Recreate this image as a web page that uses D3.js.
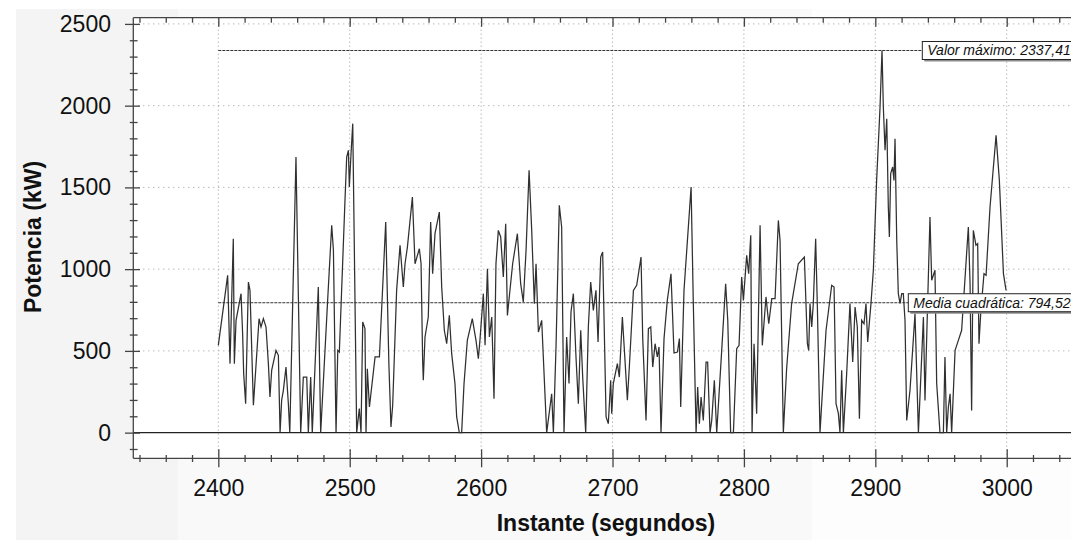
<!DOCTYPE html>
<html>
<head>
<meta charset="utf-8">
<script src="https://cdn.jsdelivr.net/npm/d3@7"></script>
<style>
	body { margin: 0; background: #fff; }
	svg { display: block; font-family: "Liberation Sans", Arial, sans-serif; }
</style>
</head>
<body>
<div id="chart"></div>
<script>

// instante (s) y potencia (kW)
var instantes = [
	2400.0, 2407.1, 2408.9, 2411.4, 2412.2, 2413.5, 2417.3, 2418.5, 2419.3, 2420.8,
	2422.9, 2424.1, 2426.7, 2431.0, 2432.5, 2434.3, 2436.3, 2438.1, 2439.3, 2440.6,
	2443.9, 2445.7, 2447.0, 2448.2, 2449.5, 2451.5, 2453.3, 2454.4, 2459.1, 2462.7,
	2464.7, 2467.3, 2468.5, 2470.3, 2471.5, 2476.1, 2477.9, 2483.2, 2486.3, 2487.6,
	2489.6, 2490.9, 2492.1, 2496.4, 2497.7, 2499.0, 2499.7, 2501.0, 2502.3, 2505.3,
	2507.3, 2508.6, 2509.9, 2511.6, 2512.4, 2513.4, 2515.0, 2519.3, 2522.6, 2527.4,
	2529.8, 2531.4, 2532.7, 2535.7, 2538.3, 2540.8, 2542.1, 2543.9, 2547.7, 2549.7,
	2553.0, 2554.3, 2555.5, 2556.0, 2557.3, 2559.8, 2561.6, 2563.1, 2564.9, 2568.2,
	2570.0, 2572.0, 2573.8, 2575.8, 2577.6, 2580.1, 2581.4, 2583.4, 2585.2, 2587.0,
	2589.5, 2593.3, 2596.1, 2597.9, 2599.2, 2601.7, 2603.0, 2604.8, 2606.3, 2608.1,
	2609.8, 2611.3, 2613.1, 2614.9, 2616.9, 2618.7, 2620.0, 2624.0, 2627.6, 2630.1,
	2632.1, 2634.2, 2636.5, 2638.5, 2640.5, 2641.8, 2643.6, 2646.1, 2649.9, 2653.7,
	2655.0, 2657.0, 2659.5, 2661.3, 2663.1, 2665.1, 2666.9, 2668.4, 2670.2, 2672.2,
	2674.0, 2675.8, 2677.3, 2679.6, 2681.6, 2683.4, 2685.4, 2687.4, 2689.0, 2691.0,
	2692.5, 2695.1, 2696.8, 2698.6, 2699.4, 2700.6, 2703.7, 2705.2, 2707.5, 2709.5,
	2711.3, 2712.8, 2715.9, 2718.4, 2721.7, 2723.0, 2725.5, 2727.3, 2729.1, 2730.6,
	2732.4, 2734.1, 2735.4, 2736.9, 2739.2, 2741.7, 2744.5, 2746.8, 2749.4, 2750.9,
	2751.9, 2754.4, 2759.8, 2761.5, 2763.6, 2764.8, 2766.1, 2767.4, 2769.1, 2771.2,
	2772.4, 2774.2, 2775.5, 2777.5, 2779.3, 2783.1, 2786.1, 2787.7, 2789.9, 2792.0,
	2794.5, 2796.3, 2798.3, 2799.6, 2802.1, 2803.6, 2805.2, 2806.2, 2807.7, 2809.7,
	2812.3, 2814.0, 2816.8, 2818.9, 2821.2, 2823.7, 2826.2, 2827.5, 2830.0, 2832.5,
	2836.3, 2841.4, 2846.0, 2848.3, 2849.3, 2850.3, 2851.6, 2852.8, 2854.6, 2855.9,
	2857.9, 2862.5, 2866.8, 2868.6, 2870.1, 2871.9, 2873.1, 2874.4, 2875.7, 2878.2,
	2880.7, 2882.8, 2884.6, 2886.3, 2887.9, 2889.6, 2891.4, 2892.9, 2894.2, 2896.7,
	2898.5, 2901.0, 2903.6, 2905.1, 2906.1, 2907.4, 2908.7, 2909.9, 2910.7, 2911.7,
	2913.2, 2914.2, 2915.0, 2916.3, 2917.5, 2918.8, 2920.1, 2921.3, 2922.6, 2923.9,
	2926.4, 2930.2, 2932.8, 2936.6, 2937.8, 2941.6, 2942.9, 2945.4, 2946.7, 2949.2,
	2951.8, 2953.0, 2954.3, 2955.6, 2956.9, 2958.1, 2960.7, 2963.2, 2965.7, 2970.8,
	2972.1, 2973.3, 2974.6, 2976.6, 2977.9, 2978.9, 2980.2, 2982.7, 2984.3, 2987.3,
	2991.9, 2994.4, 2997.5, 2999.5
];

var potencia = [
	534, 962, 422, 1186, 422, 687, 850, 605, 361, 177,
	921, 870, 167, 697, 646, 697, 646, 422, 218, 381,
	503, 473, 0, 198, 259, 401, 177, 0, 1686, 0,
	340, 340, 0, 340, 0, 891, 0, 809, 1268, 1115,
	0, 503, 493, 1421, 1686, 1727, 1502, 1706, 1890, 0,
	147, 0, 677, 636, 0, 391, 157, 463, 463, 1288,
	422, 34, 167, 870, 1146, 891, 1033, 1135, 1441, 1033,
	1125, 1033, 442, 320, 585, 707, 1288, 972, 1217, 1349,
	891, 626, 544, 717, 483, 300, 96, 0, 0, 300,
	564, 697, 564, 452, 575, 850, 534, 1003, 585, 707,
	208, 1033, 1237, 1197, 952, 1278, 717, 1033, 1217, 911,
	799, 1115, 1604, 1237, 789, 1033, 615, 687, 0, 238,
	0, 524, 1390, 1258, 0, 585, 300, 738, 850, 463,
	177, 626, 340, 0, 646, 921, 748, 870, 554, 1074,
	1105, 96, 55, 320, 116, 300, 422, 340, 707, 442,
	198, 401, 870, 901, 1074, 575, 75, 636, 646, 401,
	544, 463, 524, 0, 575, 809, 972, 487, 493, 575,
	157, 870, 1502, 789, 0, 279, 55, 218, 75, 432,
	432, 0, 75, 320, 0, 503, 911, 687, 0, 0,
	513, 534, 952, 809, 1084, 972, 1207, 0, 544, 116,
	1268, 534, 830, 666, 819, 819, 1298, 1176, 0, 391,
	789, 1033, 1074, 544, 503, 789, 646, 789, 1186, 768,
	0, 626, 901, 891, 177, 116, 0, 381, 0, 361,
	789, 432, 768, 646, 85, 687, 666, 789, 554, 789,
	993, 1543, 1992, 2337.4, 1992, 1727, 1920, 1380, 1197, 1584,
	1625, 1543, 1798, 1176, 850, 790, 850, 850, 687, 75,
	259, 728, 0, 707, 197, 1319, 932, 993, 300, 0,
	0, 462, 0, 157, 238, 0, 503, 564, 626, 1258,
	911, 136, 1237, 1146, 1156, 544, 728, 972, 962, 1380,
	1818, 1543, 972, 870
];

var ticksX = [2400, 2500, 2600, 2700, 2800, 2900, 3000];
var ticksY = [0, 500, 1000, 1500, 2000, 2500];
var valorMaximo = 2337.418;
var mediaCuadratica = 794.524;

function init() {

	var width = 1071;
	var height = 540;

	var left = 133.3, top = 17.7, bottom = 458.3, right = 1090;

	var svg = d3.select("#chart")
		.append("svg")
		.attr("width", width)
		.attr("height", height);

	// fondo gris en bandas
	var bandas = [[16, 178, "#f4f4f4"], [178, 812, "#f9f9f9"], [812, width, "#fdfdfd"]];
	svg.selectAll("rect.banda")
		.data(bandas)
		.enter()
		.append("rect")
		.attr("x", function(d) { return d[0]; })
		.attr("y", 9)
		.attr("width", function(d) { return d[1] - d[0]; })
		.attr("height", height - 9)
		.attr("fill", function(d) { return d[2]; });

	svg.append("rect")
		.attr("x", left).attr("y", top)
		.attr("width", right - left).attr("height", bottom - top)
		.attr("fill", "#fff");

	var x = d3.scaleLinear().domain([2335.3, 3060]).range([left, left + 724.7 * 1.314]);
	var y = d3.scaleLinear().domain([-157, 2538]).range([bottom, top]);

	// rejilla punteada
	svg.append("g")
		.selectAll("line")
		.data(ticksX)
		.enter()
		.append("line")
		.attr("x1", function(d) { return x(d); })
		.attr("x2", function(d) { return x(d); })
		.attr("y1", top).attr("y2", bottom)
		.attr("stroke", "#9a9a9a")
		.attr("stroke-dasharray", "1,3");

	svg.append("g")
		.selectAll("line")
		.data(ticksY.filter(function(d) { return d > 0; }))
		.enter()
		.append("line")
		.attr("x1", left).attr("x2", right)
		.attr("y1", function(d) { return y(d); })
		.attr("y2", function(d) { return y(d); })
		.attr("stroke", "#9a9a9a")
		.attr("stroke-dasharray", "1,4");

	// linea del cero
	svg.append("line")
		.attr("x1", left).attr("x2", right)
		.attr("y1", y(0)).attr("y2", y(0))
		.attr("stroke", "#222")
		.attr("stroke-width", 1.2);

	// lineas de referencia
	var refs = [
		{ v: valorMaximo, x2: 922, label: "Valor máximo: " + d3.format(".3f")(valorMaximo).replace(".", ",") },
		{ v: mediaCuadratica, x2: 908, label: "Media cuadrática: " + d3.format(".3f")(mediaCuadratica).replace(".", ",") }
	];

	svg.append("g")
		.selectAll("line")
		.data(refs)
		.enter()
		.append("line")
		.attr("x1", x(2400))
		.attr("x2", function(d) { return d.x2; })
		.attr("y1", function(d) { return y(d.v); })
		.attr("y2", function(d) { return y(d.v); })
		.attr("stroke", "#333")
		.attr("stroke-dasharray", "3,1");

	// serie
	var serie = instantes.map(function(t, i) { return [t, potencia[i]]; });

	var line = d3.line()
		.x(function(d) { return x(d[0]); })
		.y(function(d) { return y(d[1]); });

	svg.append("path")
		.datum(serie)
		.attr("d", line)
		.attr("fill", "none")
		.attr("stroke", "#303030")
		.attr("stroke-width", 1.25)
		.attr("stroke-linejoin", "miter");

	// cajas de etiqueta
	var cajas = svg.append("g")
		.selectAll("g")
		.data(refs)
		.enter()
		.append("g")
		.attr("transform", function(d) { return "translate(" + (d.x2 + 0.3) + "," + (y(d.v) - 9) + ")"; });

	cajas.append("rect")
		.attr("x", 2).attr("y", 2)
		.attr("width", 200).attr("height", 18)
		.attr("fill", "#8a8a8a");

	cajas.append("rect")
		.attr("width", 200).attr("height", 18)
		.attr("fill", "#fff")
		.attr("stroke", "#222");

	cajas.append("text")
		.attr("x", 5).attr("y", 14)
		.attr("font-size", 14)
		.attr("font-style", "italic")
		.attr("fill", "#111")
		.text(function(d) { return d.label; });

	// marco
	var marco = svg.append("g").attr("stroke", "#444").attr("stroke-width", 1.3);
	marco.append("line").attr("x1", left).attr("x2", left).attr("y1", top).attr("y2", bottom);
	marco.append("line").attr("x1", left).attr("x2", right).attr("y1", top).attr("y2", top);
	marco.append("line").attr("x1", left).attr("x2", right).attr("y1", bottom).attr("y2", bottom);

	var minorX = d3.range(2340, 3061, 20).filter(function(d) { return d % 100 != 0; });
	var minorY = d3.range(-100, 2501, 100).filter(function(d) { return d % 500 != 0; });

	// eje inferior
	var gxMinor = svg.append("g")
		.attr("transform", "translate(0," + bottom + ")")
		.call(d3.axisBottom(x).tickValues(minorX).tickSize(3.7).tickFormat(""));
	gxMinor.selectAll("line").attr("y1", -3.3);

	var gx = svg.append("g")
		.attr("transform", "translate(0," + bottom + ")")
		.call(d3.axisBottom(x).tickValues(ticksX).tickSize(9).tickPadding(12).tickFormat(d3.format("d")));
	gx.selectAll("line").attr("y1", -9);

	// eje superior (marcas hacia dentro)
	svg.append("g")
		.attr("transform", "translate(0," + top + ")")
		.call(d3.axisBottom(x).tickValues(minorX).tickSize(5).tickFormat(""));
	svg.append("g")
		.attr("transform", "translate(0," + top + ")")
		.call(d3.axisBottom(x).tickValues(ticksX).tickSize(9).tickFormat(""));

	// eje izquierdo
	var gyMinor = svg.append("g")
		.attr("transform", "translate(" + left + ",0)")
		.call(d3.axisLeft(y).tickValues(minorY).tickSize(3.5).tickFormat(""));
	gyMinor.selectAll("line").attr("x1", 4.3);

	var gy = svg.append("g")
		.attr("transform", "translate(" + left + ",0)")
		.call(d3.axisLeft(y).tickValues(ticksY).tickSize(8.3).tickPadding(14).tickFormat(d3.format("d")));
	gy.selectAll("line").attr("x1", 6.7);

	svg.selectAll(".domain").remove();
	svg.selectAll(".tick line").attr("stroke", "#444").attr("stroke-width", 1.3);
	svg.selectAll(".tick text")
		.attr("font-family", "'Liberation Sans', Arial, sans-serif")
		.attr("font-size", 23)
		.attr("fill", "#111");

	// titulos de ejes
	svg.append("text")
		.attr("x", 606).attr("y", 531)
		.attr("text-anchor", "middle")
		.attr("font-size", 23)
		.attr("font-weight", "bold")
		.attr("fill", "#111")
		.text("Instante (segundos)");

	svg.append("text")
		.attr("transform", "translate(41,237) rotate(-90)")
		.attr("text-anchor", "middle")
		.attr("font-size", 23)
		.attr("font-weight", "bold")
		.attr("fill", "#111")
		.text("Potencia (kW)");
}

init();
</script>
</body>
</html>
